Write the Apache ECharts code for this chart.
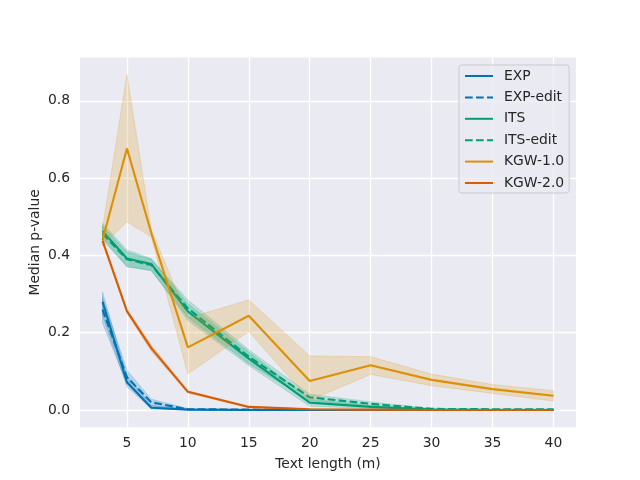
<!DOCTYPE html>
<html><head><meta charset="utf-8">
<script src="https://cdn.jsdelivr.net/npm/echarts@6/dist/echarts.min.js"></script>
<style>html,body{margin:0;padding:0;background:#fff}#c{width:640px;height:480px}</style>
</head><body><div id="c"></div>
<script>
const xs = [3, 5, 7, 10, 15, 20, 25, 30, 35, 40];
const xTicks = [5, 10, 15, 20, 25, 30, 35, 40];
const yTicks = [0.0, 0.2, 0.4, 0.6, 0.8];

const EXP       = [0.280, 0.072, 0.006, 0.001, 0.000, 0.000, 0.000, 0.000, 0.000, 0.000];
const EXP_lo    = [0.245, 0.060, 0.003, 0.000, 0.000, 0.000, 0.000, 0.000, 0.000, 0.000];
const EXP_hi    = [0.305, 0.088, 0.012, 0.002, 0.001, 0.000, 0.000, 0.000, 0.000, 0.000];
const EXPe      = [0.260, 0.085, 0.020, 0.002, 0.001, 0.000, 0.000, 0.000, 0.000, 0.000];
const EXPe_lo   = [0.225, 0.068, 0.010, 0.001, 0.000, 0.000, 0.000, 0.000, 0.000, 0.000];
const EXPe_hi   = [0.292, 0.103, 0.028, 0.004, 0.002, 0.001, 0.000, 0.000, 0.000, 0.000];

const ITS       = [0.463, 0.392, 0.378, 0.255, 0.133, 0.019, 0.008, 0.001, 0.000, 0.000];
const ITS_lo    = [0.445, 0.370, 0.362, 0.232, 0.115, 0.010, 0.004, 0.000, 0.000, 0.000];
const ITS_hi    = [0.483, 0.414, 0.392, 0.275, 0.150, 0.028, 0.012, 0.002, 0.001, 0.001];
const ITSe      = [0.456, 0.390, 0.375, 0.263, 0.138, 0.033, 0.016, 0.003, 0.002, 0.002];
const ITSe_lo   = [0.440, 0.372, 0.360, 0.240, 0.120, 0.024, 0.011, 0.002, 0.001, 0.001];
const ITSe_hi   = [0.476, 0.408, 0.390, 0.285, 0.156, 0.041, 0.021, 0.004, 0.003, 0.003];

const KGW1      = [0.440, 0.677, 0.458, 0.162, 0.244, 0.075, 0.116, 0.078, 0.054, 0.037];
const KGW1_lo   = [0.425, 0.487, 0.448, 0.093, 0.203, 0.025, 0.092, 0.063, 0.043, 0.023];
const KGW1_hi   = [0.470, 0.869, 0.468, 0.238, 0.285, 0.140, 0.138, 0.093, 0.066, 0.050];

const KGW2      = [0.438, 0.256, 0.160, 0.047, 0.008, 0.002, 0.001, 0.000, 0.000, 0.000];
const KGW2_lo   = [0.432, 0.251, 0.152, 0.044, 0.006, 0.001, 0.000, 0.000, 0.000, 0.000];
const KGW2_hi   = [0.444, 0.261, 0.168, 0.050, 0.010, 0.003, 0.002, 0.001, 0.001, 0.001];

const C_BLUE = '#0173b2', C_GREEN = '#029e73', C_ORANGE = '#de8f05', C_VERM = '#d55e00';
const TXT = '#262626';
const FONT = 'DejaVu Sans';

function lineS(name, vals, color, dashed, z) {
  return {
    type: 'line', name: name, z: z,
    data: xs.map((x, i) => [x, vals[i]]),
    symbol: 'none', showSymbol: false,
    lineStyle: { color: color, width: 2.1, type: dashed ? [7.7, 3.3] : 'solid', cap: 'butt' },
    itemStyle: { color: color },
    animation: false
  };
}
function bandS(name, lo, hi, color, z) {
  return {
    type: 'custom', name: name + '_band', z: z, silent: true,
    data: [[xs[0], lo[0]]],
    renderItem: function (params, api) {
      const pts = [];
      for (let i = 0; i < xs.length; i++) pts.push(api.coord([xs[i], hi[i]]));
      for (let i = xs.length - 1; i >= 0; i--) pts.push(api.coord([xs[i], lo[i]]));
      return { type: 'polygon', shape: { points: pts },
        style: { fill: color, stroke: color, lineWidth: 1, opacity: 0.2 } };
    },
    animation: false
  };
}

const chart = echarts.init(document.getElementById('c'), null, { renderer: 'canvas' });
chart.setOption({
  backgroundColor: '#ffffff',
  animation: false,
  textStyle: { fontFamily: FONT, color: TXT },
  grid: { left: 80, right: 64, top: 57.6, bottom: 52.8, show: true, backgroundColor: '#eaeaf2', borderWidth: 0, containLabel: false },
  xAxis: {
    type: 'value', min: 1.15, max: 41.85,
    name: 'Text length (m)', nameLocation: 'middle', nameGap: 30,
    nameTextStyle: { fontFamily: FONT, fontSize: 13.9, color: TXT },
    axisLine: { show: false },
    axisTick: { show: false, customValues: xTicks },
    axisLabel: { customValues: xTicks, fontFamily: FONT, fontSize: 13.9, color: TXT, margin: 9 },
    splitLine: { show: true, lineStyle: { color: '#ffffff', width: 1.3 } }
  },
  yAxis: {
    type: 'value', min: -0.0445, max: 0.912,
    name: 'Median p-value', nameLocation: 'middle', nameGap: 38, nameRotate: 90,
    nameMoveOverlap: false,
    nameTextStyle: { fontFamily: FONT, fontSize: 13.9, color: TXT },
    axisLine: { show: false },
    axisTick: { show: false, customValues: yTicks },
    axisLabel: { customValues: yTicks, fontFamily: FONT, fontSize: 13.9, color: TXT, margin: 10,
      formatter: v => Number(v).toFixed(1) },
    splitLine: { show: true, lineStyle: { color: '#ffffff', width: 1.3 } }
  },
  legend: {
    orient: 'vertical', left: 459, top: 65,
    data: ['EXP', 'EXP-edit', 'ITS', 'ITS-edit', 'KGW-1.0', 'KGW-2.0'],
    itemWidth: 28, itemHeight: 14, itemGap: 7.4,
    padding: [4, 5, 3, 5],
    backgroundColor: 'rgba(234,234,242,0.8)', borderColor: '#cccccc', borderWidth: 1, borderRadius: 3,
    textStyle: { fontFamily: FONT, fontSize: 13.9, color: TXT, padding: [0, 0, 0, 6] },
    itemStyle: { opacity: 0 }
  },
  series: [
    lineS('EXP', EXP, C_BLUE, false, 1), bandS('EXP', EXP_lo, EXP_hi, C_BLUE, 2),
    lineS('EXP-edit', EXPe, C_BLUE, true, 3), bandS('EXP-edit', EXPe_lo, EXPe_hi, C_BLUE, 4),
    lineS('ITS', ITS, C_GREEN, false, 5), bandS('ITS', ITS_lo, ITS_hi, C_GREEN, 6),
    lineS('ITS-edit', ITSe, C_GREEN, true, 7), bandS('ITS-edit', ITSe_lo, ITSe_hi, C_GREEN, 8),
    lineS('KGW-1.0', KGW1, C_ORANGE, false, 9), bandS('KGW-1.0', KGW1_lo, KGW1_hi, C_ORANGE, 10),
    lineS('KGW-2.0', KGW2, C_VERM, false, 11), bandS('KGW-2.0', KGW2_lo, KGW2_hi, C_VERM, 12)
  ]
});
</script></body></html>
